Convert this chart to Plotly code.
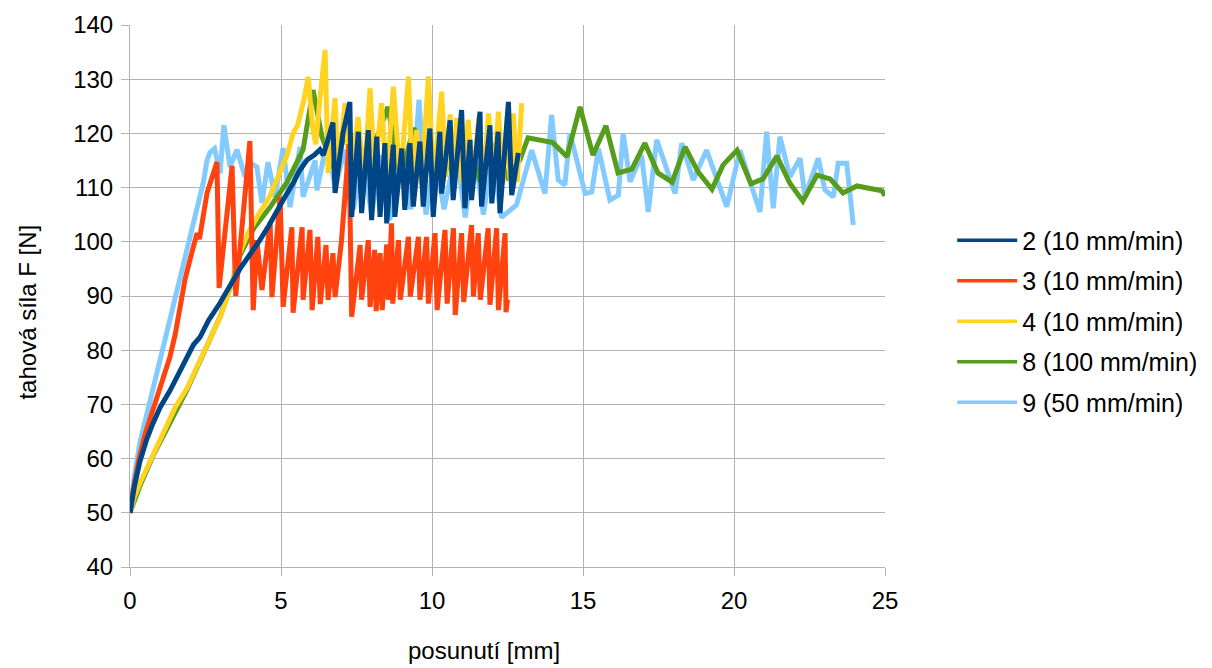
import plotly.graph_objects as go

# ---------------- data ----------------
names = ["2 (10 mm/min)", "3 (10 mm/min)", "4 (10 mm/min)", "8 (100 mm/min)", "9 (50 mm/min)"]
colors = ["#004586", "#ff420e", "#ffd320", "#579d1c", "#83caff"]

x2 = [0, 0.15, 0.33, 0.55, 0.76, 1.0, 1.32, 1.6, 1.89, 2.1, 2.32, 2.6, 2.98, 3.2, 3.48, 3.64, 3.9, 4.1,
      4.3, 4.6, 4.87, 5.1, 5.4, 5.6, 5.86, 6.1, 6.29, 6.4, 6.52, 6.72, 6.79, 7.05, 7.28,
      7.34, 7.56, 7.67, 7.89, 8.0, 8.17, 8.28, 8.44, 8.5, 8.72, 8.77, 9.0, 9.1, 9.27, 9.38, 9.6, 9.71,
      9.93, 10.04, 10.26, 10.32, 10.6, 10.7, 10.98, 11.09, 11.26, 11.31, 11.59, 11.64, 11.92, 11.98,
      12.19, 12.25, 12.53, 12.64, 12.86]
y2 = [50, 55, 59.5, 63.5, 66.5, 69.5, 72.5, 75.5, 78.7, 81, 82.4, 85.5, 88.7, 91, 93.5, 95, 97, 98.5,
      100.3, 103, 105.9, 108, 110.8, 113, 115.1, 116, 117, 116, 118.2, 122, 109, 120, 125.8,
      104.6, 120.3, 105.3, 120.6, 104.0, 119.4, 104.6, 118.2, 103.4, 117.9, 104.6, 117.2, 105.9, 118.2, 106.5, 118.5, 106.5,
      120.9, 104.6, 120.3, 108.9, 122.4, 107.7, 124.3, 106.2, 118.8, 107.7, 124.0, 106.5, 121.5, 107.1,
      120.3, 105.3, 125.8, 108.6, 116.4]

x3 = [0, 0.1, 0.3, 0.5, 0.76, 1.0, 1.32, 1.5, 1.66, 1.82, 2.0, 2.22, 2.3, 2.55, 2.88, 2.95, 3.38, 3.5,
      3.97, 4.08, 4.2, 4.37, 4.64, 4.7, 4.97, 5.07, 5.36, 5.4, 5.7, 5.73, 5.96, 6.03, 6.22, 6.3, 6.49,
      6.56, 6.72, 6.79, 7.0, 7.25, 7.34, 7.62, 7.67, 7.89, 7.95, 8.1, 8.15, 8.28, 8.35, 8.5, 8.55, 8.66, 8.7,
      8.89, 8.95, 9.22, 9.28, 9.55, 9.6, 9.82, 9.88, 10.1, 10.17, 10.43, 10.5, 10.71, 10.77, 10.98, 11.05,
      11.31, 11.37, 11.53, 11.6, 11.86, 11.92, 12.14, 12.2, 12.42, 12.45, 12.5]
y3 = [50, 54, 60, 64.5, 69, 73.5, 78.7, 83, 88, 93, 97, 101.6, 100.5, 109, 114.7, 91.5, 114, 90,
      118.6, 87.4, 100.3, 91.1, 103.5, 89.8, 108.3, 88, 102.7, 86.9, 102.7, 89.3, 102.2, 87.4, 100.9, 88.5, 99.4,
      89.3, 97.9, 89.8, 100, 118, 86.2, 99.4, 89.3, 100.3, 88.0, 98.5, 87.2, 97.9, 87.4, 99.5, 89.3, 103.4, 88.6,
      100.3, 89.3, 100.9, 89.9, 100.9, 89.3, 100.9, 88.6, 101.6, 87.4, 102.2, 88.6, 102.5, 86.5, 101.6, 88.9,
      103.1, 89.9, 101.6, 89.3, 102.5, 88.4, 102.5, 87.4, 101.6, 87.0, 89.3]

x4 = [0, 0.15, 0.33, 0.76, 1.2, 1.5, 1.89, 2.3, 2.6, 2.98, 3.2, 3.41, 3.64, 3.9, 4.2, 4.4, 4.64, 4.9,
      5.2, 5.4, 5.55, 5.75, 5.9, 6.05, 6.15, 6.3, 6.46, 6.56, 6.79, 6.89, 7.12, 7.3, 7.55, 7.75, 7.95,
      8.1, 8.33, 8.5, 8.72, 8.95, 9.22, 9.35, 9.49, 9.65, 9.88, 10.05, 10.32, 10.45, 10.6, 10.7, 10.82,
      11.0, 11.2, 11.35, 11.55, 11.7, 11.87, 12.02, 12.2, 12.35, 12.5, 12.58, 12.69, 12.82, 12.97]
y4 = [50, 53, 55.5, 60.5, 66, 69.5, 73, 78, 81.5, 86, 89.5, 93, 98, 101.5, 104.5, 106.5, 108.5, 112,
      116, 120, 121.5, 126, 130.4, 121, 118, 127, 135.4, 112.7, 126.5, 112.7, 125.6, 111, 123, 111.5, 128.3,
      112, 125.6, 110.5, 128.6, 111, 130.5, 112, 120.6, 110.5, 130.5, 111, 127.7, 112, 123.5, 111, 122.8,
      110.8, 122.5, 111, 123, 110.8, 123.7, 111, 124, 110.8, 123.5, 111.5, 123.7, 111, 125.6]

x8 = [0, 0.33, 0.76, 1.3, 1.89, 2.4, 2.98, 3.41, 3.64, 4.1, 4.64, 5.2, 5.73, 6.06, 6.36, 6.8, 7.2, 7.6,
      8.1, 8.54, 8.95, 9.4, 9.8, 10.3, 10.7, 11.1, 11.6, 12.0, 12.5, 12.91, 13.18, 14.0, 14.47, 14.9,
      15.33, 15.76, 16.16, 16.62, 17.05, 17.48, 17.95, 18.38, 18.81, 19.27, 19.64, 20.1, 20.56, 20.96,
      21.42, 21.85, 22.28, 22.75, 23.18, 23.61, 24.07, 24.9, 25.0]
y8 = [50, 55, 60.5, 66.5, 72.7, 79, 86.1, 93, 97.5, 102.5, 106.4, 111, 117, 128, 119.3, 113, 122, 112,
      118, 124.9, 112, 121, 113, 119, 112, 120, 111, 118, 112, 115.1, 119.2, 118.3, 115.7, 124.9,
      116.0, 121.4, 112.7, 113.4, 118.2, 112.7, 111.0, 117.5, 112.9, 109.7, 114.2, 116.9, 110.7, 111.6,
      115.8, 110.8, 107.5, 112.3, 111.6, 109.0, 110.3, 109.4, 108.5]

x9 = [0, 0.15, 0.33, 0.55, 0.77, 1.0, 1.2, 1.4, 1.6, 1.88, 2.1, 2.43, 2.55, 2.65, 2.8, 2.98, 3.11, 3.31,
      3.54, 3.81, 4.0, 4.2, 4.37, 4.57, 4.8, 5.07, 5.3, 5.63, 5.73, 6.13, 6.19, 6.5, 6.8, 7.1, 7.4, 7.7,
      8.0, 8.3, 8.6, 9.0, 9.3, 9.57, 9.8, 10.1, 10.4, 10.8, 11.1, 11.4, 11.7, 12.0, 12.3, 12.6, 12.8,
      13.3, 13.74, 13.96, 14.18, 14.4, 14.57, 15.07, 15.29, 15.51, 15.89, 16.17, 16.33, 16.56, 16.94,
      17.16, 17.44, 18.05, 18.27, 18.65, 19.09, 19.76, 20.2, 20.86, 21.08, 21.3, 21.52, 21.85, 22.19,
      22.35, 22.79, 23.01, 23.29, 23.45, 23.73, 23.95]
y9 = [50, 57, 63, 68, 73, 78.5, 83, 87.5, 92, 98.5, 103.5, 111, 115, 116.5, 117.2, 112.6, 121.5, 113.8,
      117, 112, 114.5, 113.8, 107.2, 114.7, 108.3, 117.3, 106.4, 117.5, 108.3, 115, 109.5, 118, 110, 117, 106, 116,
      105, 116, 104, 115, 106, 126.2, 105, 116, 106, 117, 104.5, 117, 105, 116, 104.5, 106, 106.8,
      116.9, 108.9, 123.4, 111.4, 110.5, 120.0, 108.9, 109.2, 117.2, 107.7, 108.6, 120.0, 111.1, 116.0,
      105.5, 118.8, 108.9, 118.2, 111.4, 116.9, 106.5, 116.9, 105.5, 120.3, 106.2, 119.4, 112.0, 115.4,
      108.3, 115.4, 109.6, 108.3, 114.5, 114.5, 103.1]

xs = [x2, x3, x4, x8, x9]
ys = [y2, y3, y4, y8, y9]

# ---------------- figure ----------------
fig = go.Figure()
# data traces, drawn in reverse order so series 2 ends on top
for i in reversed(range(5)):
    fig.add_trace(go.Scatter(
        x=xs[i], y=ys[i], mode="lines", name=names[i],
        line=dict(color=colors[i], width=5),
        showlegend=False,
    ))
# legend entries with thinner key lines
for i in range(5):
    fig.add_trace(go.Scatter(
        x=[None], y=[None], mode="lines", name=names[i],
        line=dict(color=colors[i], width=3.5),
        legendgroup="g%d" % i, showlegend=True,
    ))

font_family = "Liberation Sans, Arial, sans-serif"
fig.update_layout(
    width=1212, height=668,
    margin=dict(l=130, r=327, t=25, b=101, autoexpand=False),
    paper_bgcolor="white", plot_bgcolor="white",
    font=dict(family=font_family, size=24, color="#000000"),
    showlegend=True,
    legend=dict(
        traceorder="grouped", tracegroupgap=5,
        x=1.089, y=0.645, xanchor="left", yanchor="top",
        font=dict(size=25), itemwidth=60,
        bgcolor="rgba(0,0,0,0)",
    ),
    xaxis=dict(
        range=[0, 25], tickmode="linear", tick0=0, dtick=5,
        showgrid=True, gridcolor="#b3b3b3", gridwidth=1,
        zeroline=False, showline=True, linecolor="#b3b3b3", linewidth=1,
        ticks="outside", ticklen=8, tickcolor="#b3b3b3",
        tickfont=dict(size=24), ticklabelstandoff=4,
    ),
    yaxis=dict(
        range=[40, 140], tickmode="linear", tick0=40, dtick=10,
        showgrid=True, gridcolor="#b3b3b3", gridwidth=1,
        zeroline=False, showline=True, linecolor="#b3b3b3", linewidth=1,
        ticks="outside", ticklen=8, tickcolor="#b3b3b3",
        tickfont=dict(size=24), ticklabelstandoff=3,
    ),
    annotations=[
        dict(text="posunutí [mm]", x=0.469, y=-0.154, xref="paper", yref="paper",
             xanchor="center", yanchor="middle", showarrow=False, font=dict(size=24)),
        dict(text="tahová síla F [N]", x=-0.136, y=0.47, xref="paper", yref="paper",
             xanchor="center", yanchor="middle", showarrow=False, textangle=-90, font=dict(size=24)),
    ],
)

fig.write_html("out.html")
